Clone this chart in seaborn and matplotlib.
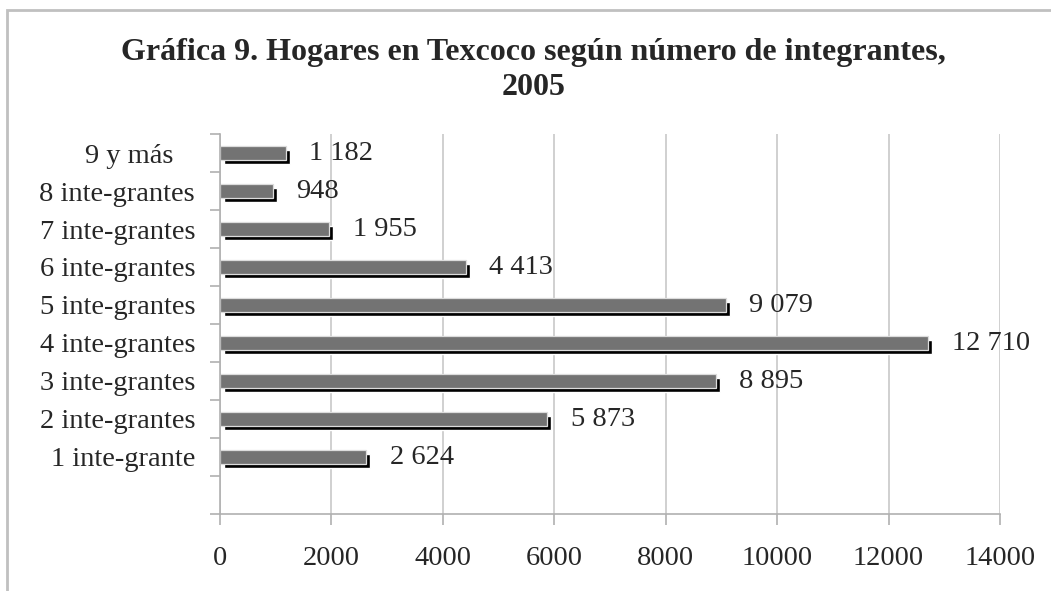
import pandas as pd
import seaborn as sns
import matplotlib.pyplot as plt
from matplotlib.patches import Rectangle
from matplotlib.transforms import offset_copy

# data
categorias = ["9 y más", "8 inte-grantes", "7 inte-grantes", "6 inte-grantes",
              "5 inte-grantes", "4 inte-grantes", "3 inte-grantes",
              "2 inte-grantes", "1 inte-grante"]
hogares = [1182, 948, 1955, 4413, 9079, 12710, 8895, 5873, 2624]
xticks = [0, 2000, 4000, 6000, 8000, 10000, 12000, 14000]

df = pd.DataFrame({"cat": categorias, "val": hogares})

sns.set_style("white")
plt.rcParams['font.family'] = ['Liberation Serif', 'DejaVu Serif']

fig = plt.figure(figsize=(10.51, 5.91), dpi=100)
ax = fig.add_axes([220/1051, 1 - 514/591, 780/1051, 380/591])

# shadow bars first (black, shifted right/down a few pixels)
sns.barplot(data=df, x="val", y="cat", order=categorias, color="black",
            width=0.39, saturation=1, ax=ax, errorbar=None)
shift = offset_copy(ax.transData, fig=fig, x=4, y=-4, units='dots')
for p in ax.patches:
    p.set_transform(shift)

sns.barplot(data=df, x="val", y="cat", order=categorias, color="#737373",
            width=0.39, saturation=1, ax=ax, errorbar=None,
            edgecolor="#dcdcdc", linewidth=0.9)

etiquetas = [f"{v:,}".replace(",", " ") for v in hogares]
ax.bar_label(ax.containers[-1], labels=etiquetas, padding=17, fontsize=20.5)

ax.set_xlim(0, 14000)
ax.set_ylim(9.5, -0.5)  # one empty slot at the bottom
ax.set_xticks(xticks)
ax.set_xticklabels([str(t) for t in xticks], fontsize=20.5)
ax.tick_params(axis="x", bottom=True, length=8, width=1.2, color="#b0b0b0", pad=15, direction="out")

ylabels = categorias.copy()
ylabels[0] = "9 y más   "
ax.set_yticks(range(len(categorias)))
ax.set_yticklabels(ylabels, fontsize=20.5)
ax.tick_params(axis="y", which="major", left=False, length=0, pad=18)
ax.set_yticks([i - 0.5 for i in range(len(categorias) + 2)], minor=True)
ax.tick_params(axis="y", which="minor", left=True, length=7, width=1.2, color="#b0b0b0")

ax.set_xlabel("")
ax.set_ylabel("")
ax.grid(axis="x", color="#c8c8c8", linewidth=1.2)
ax.set_axisbelow(True)
for s in ["top", "right"]:
    ax.spines[s].set_visible(False)
for s in ["left", "bottom"]:
    ax.spines[s].set_color("#b0b0b0")
    ax.spines[s].set_linewidth(1.2)

fig.text(0.508, 1 - 70/591, "Gráfica 9. Hogares en Texcoco según número de integrantes,\n2005",
         ha="center", va="center", fontsize=23, fontweight="bold", linespacing=1.3)

fig.patches.append(Rectangle((7/1051, -0.1), 1.2, 1 - 10/591 + 0.1, transform=fig.transFigure,
                             fill=False, edgecolor="#c0c0c0", linewidth=2))

fig.savefig("out.png", dpi=100)
